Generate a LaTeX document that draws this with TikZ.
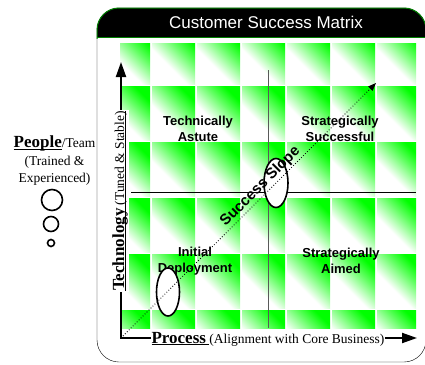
\documentclass[tikz,border=0pt]{standalone}
\usepackage{fontspec}
\setmainfont{Liberation Serif}
\setsansfont{Liberation Sans}
\usetikzlibrary{arrows.meta}
% white-to-green fade used for every tile
\pgfdeclarehorizontalshading{tilefade}{100bp}{color(0bp)=(white); color(40bp)=(white); color(60bp)=(green!60); color(74bp)=(green); color(100bp)=(green)}
% underline close to the baseline
\newsavebox\ulbox
\newcommand\ulword[1]{\sbox\ulbox{#1}\rlap{\rule[-2.2pt]{\wd\ulbox}{0.8pt}}\usebox\ulbox}

\begin{document}
\begin{tikzpicture}[x=1pt,y=-1pt,
        tile/.style={shading=tilefade,shading angle=45},
        quad/.style={font=\sffamily\bfseries\fontsize{13}{16}\selectfont,align=center},
        axis/.style={line width=2pt,line join=miter,{Triangle[length=15pt,width=10pt]}-{Triangle[length=15pt,width=10pt]}},
        ring/.style={line width=1.6pt,fill=white},
        axlabel/.style={fill=white,inner sep=1pt,anchor=base,font=\fontsize{13.5}{16}\selectfont}]
    \useasboundingbox (0,0) rectangle (425,364);
    \def\matframe{(97,8) rectangle (426,362)}
    % outer frame and title bar
    \draw[rounded corners=22pt] \matframe;
    \begin{scope}
        \clip[rounded corners=22pt] \matframe;
        \fill (90,0) rectangle (430,37);
    \end{scope}
    \begin{scope}
        \clip (0,0) rectangle (430,38);
        \draw[green!50!black,line width=1pt,rounded corners=22pt] \matframe;
        \draw[green!50!black,line width=1pt] (97,37) -- (426,37);
    \end{scope}
    \node[text=white,font=\sffamily\fontsize{17}{20}\selectfont] (title) at (266,22) {Customer Success Matrix};
    % tiles
    \begin{scope}
        \clip (120,43) rectangle (416,328);
        \foreach \i in {0,...,6}
            \foreach \j in {0,...,5}
                \shade[tile] ({107+45*\i},{30+56*\j}) rectangle +(43,54);
    \end{scope}
    % quadrant split
    \draw[black!65,line width=1pt] (268,70) -- (268,328);
    \draw[line width=0.8pt] (131,192) -- (416,192);
    \node[quad] (astute) at (198,129) {Technically\\Astute};
    \node[quad] (successful) at (340,129) {Strategically\\Successful};
    \node[quad] (initial) at (195,261) {Initial\\Deployment};
    \node[quad] (aimed) at (341,261) {Strategically\\Aimed};
    \draw[ring] (276,183) ellipse (12 and 24.5);
    \draw[ring] (168,292) ellipse (11.5 and 24);
    % axes and slope
    \coordinate (orig) at (121,338);
    \coordinate (xtip) at (417,338);
    \coordinate (ytip) at (121,62);
    \coordinate (slopetip) at (376,83);
    \draw[dotted,line width=0.8pt,-{Triangle[length=8pt,width=6pt]}] (orig) -- (slopetip)
        node[pos=0.57,sloped,above,inner sep=1pt,font=\sffamily\bfseries\fontsize{15}{18}\selectfont] (slope) {Success Slope};
    \draw[axis] (ytip) -- (orig) -- (xtip);
    \node[axlabel] (proclabel) at (268,343) {\ulword{{\bfseries\fontsize{17}{20}\selectfont Process}\ }(Alignment with Core Business)};
    \node[axlabel,rotate=90] (techlabel) at (124,201) {\ulword{{\bfseries\fontsize{17}{20}\selectfont Technology}\ (Tuned \& Stable)}};
    % people side
    \node[align=center,font=\fontsize{13.5}{17.5}\selectfont] (people) at (54.5,161)
        {\ulword{\bfseries\fontsize{17}{20}\selectfont People}/Team\\(Trained \&\\Experienced)};
    \draw[ring] (52,200) circle (10.5);
    \draw[ring] (51,224) circle (7.5);
    \draw[ring] (51,243) circle (3.5);
\end{tikzpicture}
\end{document}
